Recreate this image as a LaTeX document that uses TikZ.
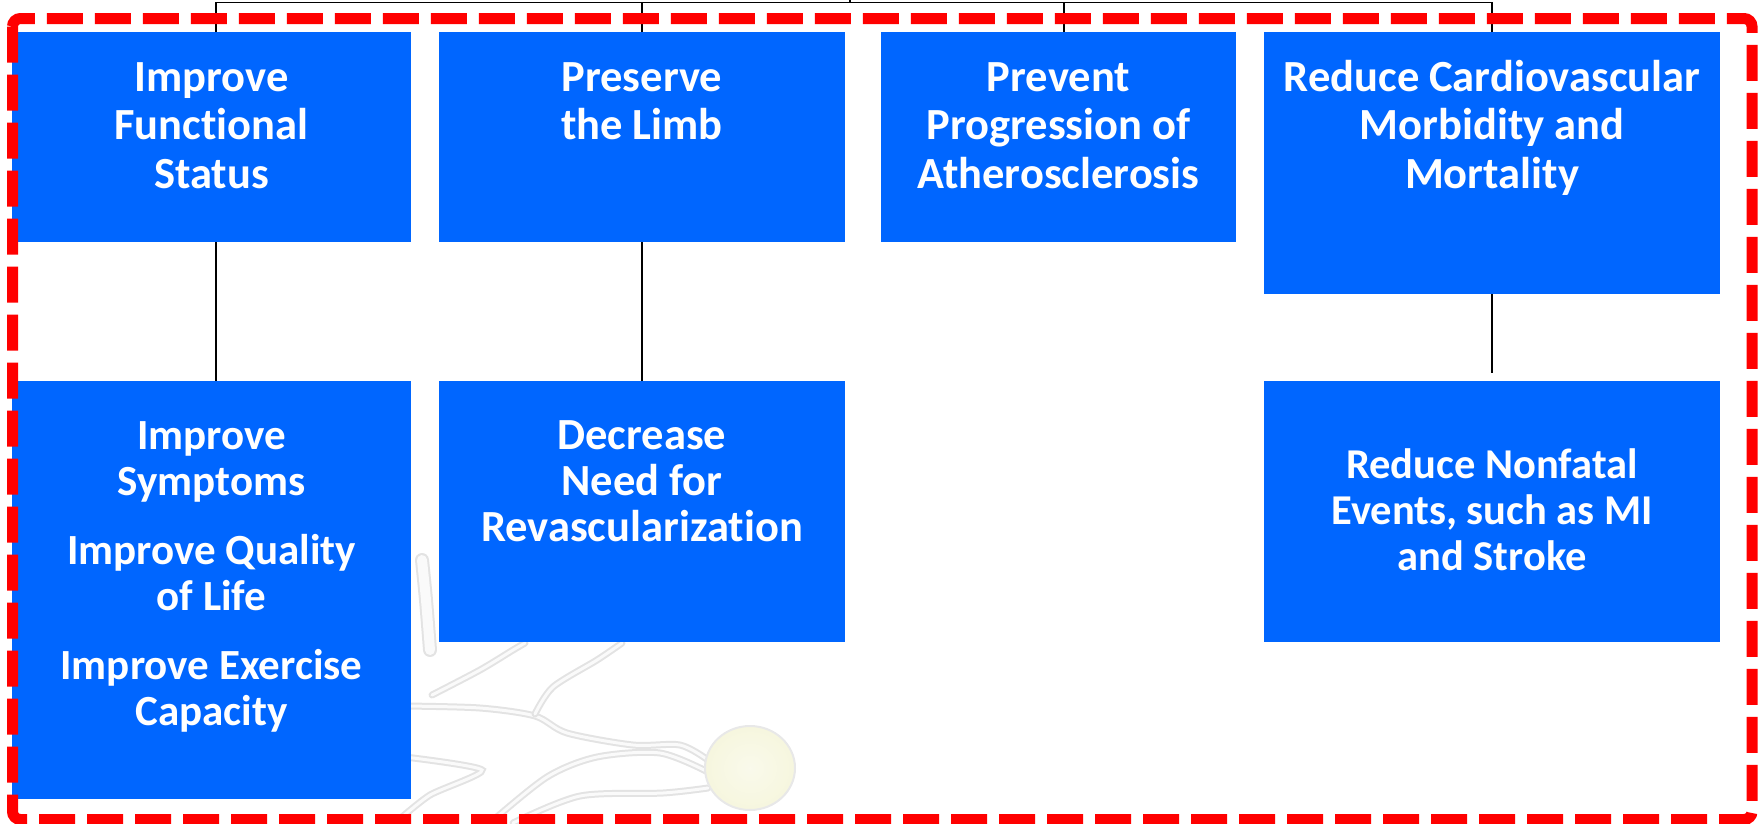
\documentclass[tikz,border=0pt]{standalone}
\usepackage{fontspec}
\setmainfont{Carlito}[Ligatures=NoCommon]
\usetikzlibrary{positioning}
\definecolor{goalblue}{RGB}{0,102,255}
\definecolor{framered}{RGB}{255,0,0}
\definecolor{bulb}{RGB}{246,246,222}
\tikzset{goal/.style={fill=goalblue, inner sep=0pt, outer sep=0pt},
goaltext/.style={text=white, font=\bfseries\fontsize{44.5}{48.5}\selectfont, align=center, inner sep=0pt},
subtext/.style={goaltext, font=\bfseries\fontsize{#1}{46}\selectfont},
subtext/.default={43},
link/.style={draw=black, line width=1.6pt},
vessel/.style={draw=gray!22, double=gray!4, double distance=3pt, line width=2pt, line cap=round}}

\begin{document}
\begin{tikzpicture}[x=1pt,y=-1pt]
\useasboundingbox (0,0) rectangle (1758,823);

% faint picture behind
\draw[vessel, double distance=10pt] plot[smooth] coordinates {(422,560) (426,600) (430,650)};
\draw[vessel] plot[smooth] coordinates {(405,706) (480,708) (535,716) (567,733) (633,745) (680,745) (708,760)};
\draw[vessel] plot[smooth] coordinates {(535,714) (553,687) (597,660) (622,643)};
\draw[vessel] plot[smooth] coordinates {(432,695) (480,670) (513,650) (525,643)};
\draw[vessel] plot[smooth, tension=0.4] coordinates {(405,757) (482,770) (430,795) (395,823)};
\draw[vessel] plot[smooth] coordinates {(490,823) (547,777) (597,757) (660,753) (708,772)};
\draw[vessel] plot[smooth] coordinates {(513,823) (580,796) (663,793) (708,788)};
\shade[inner color=bulb!60!white, outer color=bulb, draw=gray!18, line width=2pt] (750,768) ellipse [x radius=45pt, y radius=42pt];

% boxes
\node[goal, minimum width=399pt, minimum height=210pt] (b1) at (211.5,137) {};
\node[goal, minimum width=406pt, minimum height=210pt] (b2) at (642,137) {};
\node[goal, minimum width=355pt, minimum height=210pt] (b3) at (1058.5,137) {};
\node[goal, minimum width=456pt, minimum height=262pt] (b4) at (1492,163) {};
\node[goal, minimum width=399pt, minimum height=418pt] (c1) at (211.5,590) {};
\node[goal, minimum width=406pt, minimum height=261pt] (c2) at (642,511.5) {};
\node[goal, minimum width=456pt, minimum height=261pt] (c4) at (1492,511.5) {};

% texts
\node[goaltext, below=30pt of b1.north] (b1t) {Improve\\Functional\\Status};
\node[goaltext, below=30pt of b2.north] (b2t) {Preserve\\the Limb};
\node[goaltext, below=30pt of b3.north] (b3t) {Prevent\\Progression of\\Atherosclerosis};
\node[goaltext, below=28pt of b4.north] (b4t) {Reduce Cardiovascular\\Morbidity and\\Mortality};
\node[subtext, below=40pt of c1.north] (c1t) {Improve\\Symptoms\\[23pt]Improve Quality\\of Life\\[23pt]Improve Exercise\\Capacity};
\node[subtext=44.5, below=39pt of c2.north] (c2t) {Decrease\\Need for\\Revascularization};
\node[subtext=42.5, below=67pt of c4.north] (c4t) {Reduce Nonfatal\\Events, such as MI\\and Stroke};

% connectors
\coordinate (root) at (850,0);
\coordinate (bus) at (850,2.5);
\draw[link] (root) -- (bus);
\draw[link] ([xshift=4.5pt]b1.north) |- (bus);
\draw[link] (b2.north) |- (bus);
\draw[link] ([xshift=5.5pt]b3.north) |- (bus);
\draw[link] (b4.north) |- (bus);
\draw[link] ([xshift=4.5pt]b1.south) -- ([xshift=4.5pt]c1.north);
\draw[link] (b2) -- (c2);
\draw[link] (b4) -- ([yshift=8pt]c4.north);

% dashed frame
\draw[framered, line width=11pt, dash pattern=on 36pt off 12pt, rounded corners=8pt] (12.5,18.5) rectangle (1752,819.5);
\end{tikzpicture}
\end{document}
